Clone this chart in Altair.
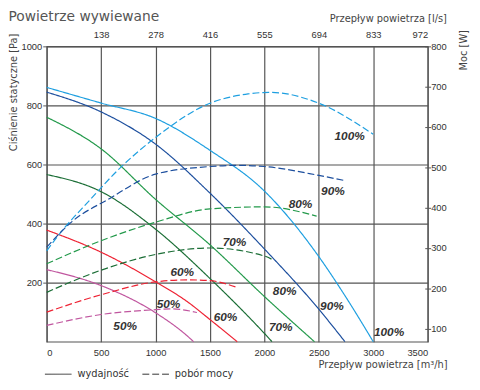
import altair as alt
import pandas as pd

series = ["100%", "90%", "80%", "70%", "60%", "50%"]
colors = ["#1e9fe0", "#1d4f9e", "#22994a", "#1b6e36", "#ee2233", "#c0569f"]

# static pressure curves (m3/h -> Pa)
q_p100 = [0, 500, 1000, 1500, 2000, 2500, 2750, 3000]
pa_100 = [861, 808, 756, 648, 510, 288, 150, 0]
q_p90 = [0, 500, 1000, 1500, 2000, 2500, 2740]
pa_90 = [845, 778, 669, 503, 314, 110, 0]
q_p80 = [0, 500, 1000, 1500, 2000, 2460]
pa_80 = [760, 653, 482, 328, 153, 0]
q_p70 = [0, 500, 1000, 1500, 2000, 2070]
pa_70 = [566, 508, 381, 214, 28, 0]
q_p60 = [0, 500, 1000, 1290, 1500, 1750]
pa_60 = [378, 303, 203, 136, 75, 0]
q_p50 = [0, 500, 1000, 1290, 1350]
pa_50 = [244, 190, 98, 20, 0]

# power curves (m3/h -> W)
q_w100 = [0, 115, 400, 650, 1000, 1500, 1850, 2050, 2500, 3000]
w_100 = [293, 334, 420, 492, 574, 659, 682, 686, 659, 582]
q_w90 = [0, 235, 560, 1000, 1500, 1750, 2000, 2500, 2740]
w_90 = [302, 366, 420, 483, 502, 505, 502, 480, 467]
q_w80 = [0, 500, 1000, 1500, 2000, 2480]
w_80 = [261, 318, 364, 397, 402, 379]
q_w70 = [0, 500, 1000, 1500, 2000, 2075]
w_70 = [190, 245, 284, 300, 280, 271]
q_w60 = [0, 500, 1000, 1300, 1500, 1750]
w_60 = [141, 184, 216, 221, 219, 202]
q_w50 = [0, 500, 1000, 1150, 1380]
w_50 = [108, 135, 147, 149, 140]

# curve labels (placed in m3/h, Pa coordinates)
label_text = ["100%", "90%", "80%", "70%", "60%", "50%",
              "100%", "90%", "80%", "70%", "60%", "50%"]
label_q = [2783, 2629, 2331, 1725, 1245, 1119, 3145, 2620, 2186, 2150, 1643, 721]
label_pa = [697, 510, 467, 337, 237, 128, 31, 121, 171, 48, 84, 54]

x_ticks = [0, 500, 1000, 1500, 2000, 2500, 3000, 3500]
top_ticks = [500, 1000, 1500, 2000, 2500, 3000, 3500]
top_labels = ["138", "278", "416", "555", "694", "833", "972"]
pa_ticks = [200, 400, 600, 800, 1000]
w_ticks = [100, 200, 300, 400, 500, 600, 700, 800]

kinds = ["wydajność", "pobór mocy"]

p_sets = [(q_p100, pa_100), (q_p90, pa_90), (q_p80, pa_80),
          (q_p70, pa_70), (q_p60, pa_60), (q_p50, pa_50)]
w_sets = [(q_w100, w_100), (q_w90, w_90), (q_w80, w_80),
          (q_w70, w_70), (q_w60, w_60), (q_w50, w_50)]

rows_p = []
for s, (qs, vs) in zip(series, p_sets):
    for q, v in zip(qs, vs):
        rows_p.append({"series": s, "flow": q, "value": v, "kind": kinds[0]})
rows_w = []
for s, (qs, vs) in zip(series, w_sets):
    for q, v in zip(qs, vs):
        rows_w.append({"series": s, "flow": q, "value": v, "kind": kinds[1]})
df_p = pd.DataFrame(rows_p)
df_w = pd.DataFrame(rows_w)
df_l = pd.DataFrame({"label": label_text, "flow": label_q, "pa": label_pa})

xscale = alt.Scale(domain=[0, 3500], nice=False)
color = alt.Color("series:N", scale=alt.Scale(domain=series, range=colors), legend=None)
dash = alt.StrokeDash(
    "kind:N",
    scale=alt.Scale(domain=kinds, range=[[1, 0], [7, 3]]),
    legend=alt.Legend(
        orient="none", legendX=-2.3, legendY=319, direction="horizontal",
        title=None, symbolType="stroke", symbolSize=729, symbolStrokeWidth=1,
        symbolStrokeColor="#333", labelFont="DejaVu Sans", labelFontSize=10,
        labelColor="#333", columnPadding=10, labelOffset=5.5,
    ),
)

top_expr = "[" + ",".join("'" + t + "'" for t in top_labels) + "][round(datum.value/500)-1]"

solid = alt.Chart(df_p).mark_line(strokeWidth=1.2, interpolate="monotone").encode(
    x=alt.X("flow:Q", scale=xscale, axis=alt.Axis(
        orient="bottom", values=x_ticks, format="d", grid=True, ticks=False,
        tickSize=0, labelPadding=6, title="Przepływ powietrza [m³/h]",
        titleX=406.7, titleY=26.2, titleAlign="right", titleBaseline="alphabetic")),
    y=alt.Y("value:Q", scale=alt.Scale(domain=[0, 1000], nice=False), axis=alt.Axis(
        values=pa_ticks, format="d", grid=True, tickSize=4, labelPadding=1,
        title="Ciśnienie statyczne [Pa]", titleAngle=270, titleX=-31, titleY=106,
        titleAlign="left", titleBaseline="alphabetic")),
    color=color,
    strokeDash=dash,
)

dashed = alt.Chart(df_w).mark_line(strokeWidth=1.2, interpolate="monotone").encode(
    x=alt.X("flow:Q", scale=xscale, axis=alt.Axis(
        orient="top", values=top_ticks, labelExpr=top_expr, grid=False, ticks=False,
        tickSize=0, labelPadding=6.5, title="Przepływ powietrza [l/s]",
        titleX=406, titleY=-25.5, titleAlign="right", titleBaseline="alphabetic")),
    y=alt.Y("value:Q", scale=alt.Scale(domain=[67.6, 800], nice=False, zero=False),
            axis=alt.Axis(orient="right", values=w_ticks, format="d", grid=False,
                          offset=-3, tickSize=6, labelPadding=0, title="Moc [W]",
                          titleAngle=270, titleX=42.7, titleY=24, titleAlign="left",
                          titleBaseline="alphabetic")),
    color=color,
    strokeDash=dash,
)

labels = alt.Chart(df_l).mark_text(
    font="Liberation Sans", fontSize=12, fontStyle="italic", fontWeight="bold",
    color="#333",
).encode(
    x=alt.X("flow:Q", scale=xscale, axis=None),
    y=alt.Y("pa:Q", scale=alt.Scale(domain=[0, 1000], nice=False), axis=None),
    text="label:N",
)

chart = alt.layer(solid, dashed, labels).resolve_scale(
    y="independent"
).resolve_axis(
    x="independent", y="independent"
).properties(
    width=387, height=300,
    autosize=alt.AutoSizeParams(type="none"),
    padding={"left": 39.3, "top": 36, "right": 45, "bottom": 40},
    title=alt.TitleParams("Powietrze wywiewane", anchor="start", frame="group",
                          font="DejaVu Sans", fontSize=14, fontWeight="normal",
                          color="#555", dx=-38.8, dy=15),
).configure_axis(
    labelFont="Liberation Sans", labelFontSize=9.5, labelColor="#333",
    titleFont="DejaVu Sans", titleFontSize=10, titleColor="#444",
    titleFontWeight="normal", gridColor="#555", gridWidth=1.2, domain=False,
    tickColor="#555",
).configure_view(stroke="#555", strokeWidth=1.2)

chart.save("out.html", embed_options={"renderer": "svg", "actions": False})
